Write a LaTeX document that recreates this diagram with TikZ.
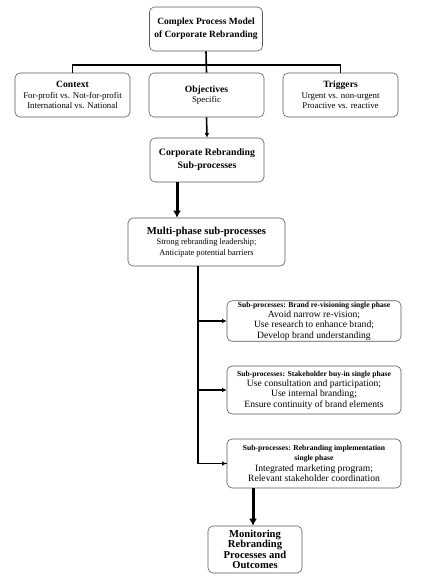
\documentclass[tikz,border=0pt]{standalone}
\usepackage{fontspec}
\setmainfont{Liberation Serif}
\usetikzlibrary{arrows.meta}

\tikzset{
  box/.style={draw=black!65, rounded corners=5pt, align=center, inner sep=1pt, line width=0.6pt},
  bar/.style={line width=1.6pt},
  thin arrow/.style={line width=1.6pt, -{Latex[length=4.5pt,width=4.5pt]}},
  fat arrow/.style={line width=3pt, -{Latex[length=7pt,width=8pt]}},
}
\newcommand{\headbig}[1]{{\fontsize{9.6}{12}\selectfont\bfseries #1}}
\newcommand{\headsmall}[1]{{\fontsize{7.6}{9.5}\selectfont\bfseries #1}}

\begin{document}
\begin{tikzpicture}[x=1pt, y=-1pt]
\useasboundingbox (0,0) rectangle (423,577);

% Top level
\node[box, minimum width=113pt, minimum height=44pt, font=\fontsize{9.5}{13}\selectfont\bfseries] (model) at (206,29) {Complex Process Model\\of Corporate Rebranding};

% Context, objectives, triggers
\node[box, minimum width=115pt, minimum height=44pt, font=\fontsize{8.8}{10.3}\selectfont] (context) at (72.5,95) {\headbig{Context}\\For-profit vs. Not-for-profit\\International vs. National};
\node[box, minimum width=115pt, minimum height=44pt, font=\fontsize{8.8}{10.3}\selectfont] (objectives) at (206.5,95) {\headbig{Objectives}\\Specific};
\node[box, minimum width=115pt, minimum height=44pt, font=\fontsize{8.8}{10.3}\selectfont] (triggers) at (340.5,95) {\headbig{Triggers}\\Urgent vs. non-urgent\\Proactive vs. reactive};
\coordinate (fork) at (206,65);
\draw[bar] (model.south) -- (objectives.north);
\draw[bar] (context.north) |- (fork) -| (triggers.north);

% Sub-processes
\node[box, minimum width=114pt, minimum height=44pt, font=\fontsize{9.8}{13}\selectfont\bfseries] (corporate) at (207,160) {Corporate Rebranding\\Sub-processes};
\draw[thin arrow] (objectives.south) -- (corporate.north);

\node[box, minimum width=157pt, minimum height=48pt, font=\fontsize{8.4}{10.3}\selectfont] (multiphase) at (206.5,242) {{\fontsize{10.6}{13}\selectfont\bfseries Multi-phase sub-processes}\\Strong rebranding leadership;\\Anticipate potential barriers};
\draw[fat arrow] ([xshift=-30pt]corporate.south) -- ([xshift=-30pt]corporate.south |- multiphase.north);

% Single phases
\node[box, minimum width=174pt, minimum height=40pt, font=\fontsize{9.6}{10.4}\selectfont] (revision) at (314,321) {\headsmall{Sub-processes: Brand re-visioning single phase}\\Avoid narrow re-vision;\\Use research to enhance brand;\\Develop brand understanding};
\node[box, minimum width=174pt, minimum height=48pt, font=\fontsize{9.6}{10.4}\selectfont] (buyin) at (314,390) {\headsmall{Sub-processes: Stakeholder buy-in single phase}\\Use consultation and participation;\\Use internal branding;\\Ensure continuity of brand elements};
\node[box, minimum width=174pt, minimum height=49pt, font=\fontsize{9.6}{10.4}\selectfont] (implement) at (314,463.5) {\headsmall{Sub-processes: Rebranding implementation}\\\headsmall{single phase}\\Integrated marketing program;\\Relevant stakeholder coordination};

\coordinate (spine) at ([xshift=-8.5pt]multiphase.south);
\draw[bar] (spine) |- (implement.west);
\draw[thin arrow] (spine |- implement.west) -- (implement.west);
\draw[thin arrow] (spine |- revision.west) -- (revision.west);
\draw[thin arrow] (spine |- buyin.west) -- (buyin.west);

% Outcome
\node[box, minimum width=94pt, minimum height=47pt, font=\fontsize{10.6}{10.4}\selectfont\bfseries] (monitoring) at (255,549.5) {Monitoring\\Rebranding\\Processes and\\Outcomes};
\draw[fat arrow] ([xshift=-2pt]monitoring.north |- implement.south) -- ([xshift=-2pt]monitoring.north);
\end{tikzpicture}
\end{document}
